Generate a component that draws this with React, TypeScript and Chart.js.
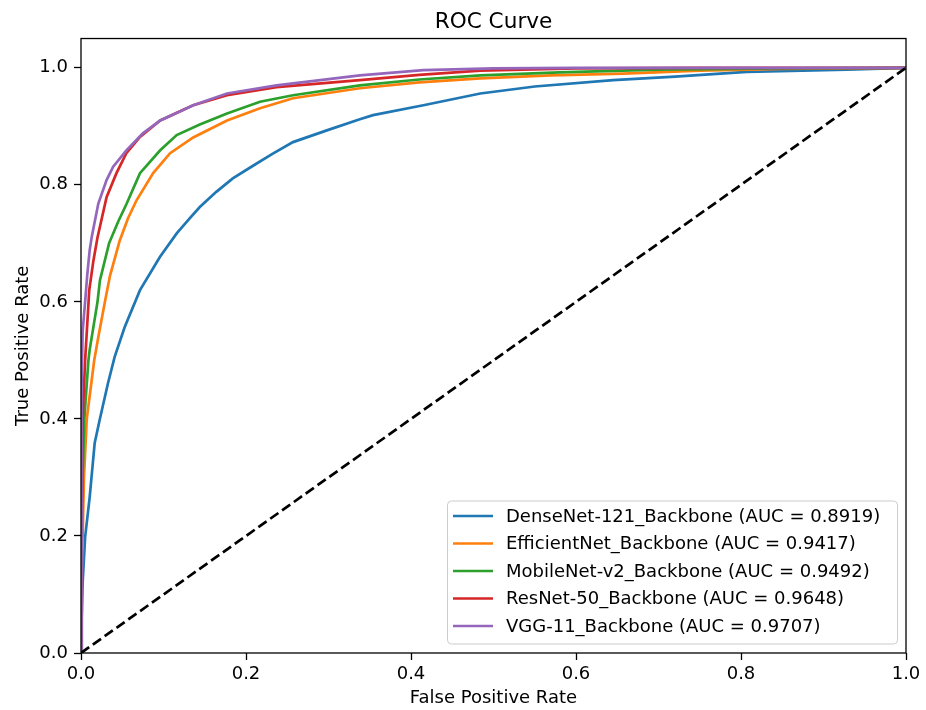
import React, { useEffect, useRef } from "react";
import { Chart, registerables } from "chart.js";

Chart.register(...registerables);

const seriesLabels = [
  "DenseNet-121_Backbone (AUC = 0.8919)",
  "EfficientNet_Backbone (AUC = 0.9417)",
  "MobileNet-v2_Backbone (AUC = 0.9492)",
  "ResNet-50_Backbone (AUC = 0.9648)",
  "VGG-11_Backbone (AUC = 0.9707)",
];
const seriesColors = ["#1f77b4", "#ff7f0e", "#2ca02c", "#d62728", "#9467bd"];

const denseFpr = [0, 0.001, 0.002, 0.005, 0.0105, 0.0166, 0.0226, 0.0327, 0.0408, 0.053, 0.0715, 0.0958, 0.116, 0.132, 0.144, 0.164, 0.184, 0.209, 0.232, 0.257, 0.298, 0.338, 0.354, 0.415, 0.484, 0.55, 0.645, 0.72, 0.807, 0.928, 1.0];
const denseTpr = [0, 0.06, 0.12, 0.198, 0.266, 0.359, 0.398, 0.461, 0.506, 0.557, 0.62, 0.677, 0.717, 0.743, 0.762, 0.788, 0.811, 0.833, 0.853, 0.873, 0.893, 0.912, 0.919, 0.936, 0.956, 0.968, 0.979, 0.985, 0.993, 0.997, 1.0];

const effFpr = [0, 0.0005, 0.002, 0.0036, 0.007, 0.0125, 0.016, 0.021, 0.029, 0.0352, 0.047, 0.057, 0.0675, 0.0875, 0.108, 0.136, 0.177, 0.217, 0.257, 0.338, 0.41, 0.484, 0.57, 0.657, 0.75, 0.85, 1.0];
const effTpr = [0, 0.12, 0.2, 0.3, 0.4, 0.461, 0.5, 0.54, 0.6, 0.645, 0.705, 0.743, 0.774, 0.82, 0.854, 0.881, 0.91, 0.931, 0.948, 0.965, 0.975, 0.982, 0.987, 0.99, 0.995, 0.998, 1.0];

const mobFpr = [0, 0.0005, 0.002, 0.004, 0.009, 0.0105, 0.02, 0.023, 0.034, 0.045, 0.0554, 0.0715, 0.096, 0.116, 0.144, 0.177, 0.217, 0.257, 0.338, 0.41, 0.484, 0.58, 0.7, 0.85, 1.0];
const mobTpr = [0, 0.15, 0.3, 0.4, 0.5, 0.518, 0.6, 0.637, 0.7, 0.737, 0.768, 0.82, 0.859, 0.885, 0.903, 0.922, 0.942, 0.953, 0.97, 0.98, 0.987, 0.992, 0.997, 0.999, 1.0];

const resFpr = [0, 0.0005, 0.002, 0.005, 0.01, 0.015, 0.02, 0.031, 0.043, 0.055, 0.0715, 0.096, 0.136, 0.177, 0.237, 0.338, 0.41, 0.484, 0.6, 0.75, 1.0];
const resTpr = [0, 0.2, 0.4, 0.5, 0.62, 0.67, 0.71, 0.779, 0.82, 0.854, 0.882, 0.91, 0.936, 0.953, 0.967, 0.979, 0.988, 0.995, 0.999, 1.0, 1.0];

const vggFpr = [0, 0.0003, 0.001, 0.002, 0.005, 0.0075, 0.0105, 0.013, 0.021, 0.031, 0.039, 0.055, 0.075, 0.096, 0.136, 0.177, 0.237, 0.338, 0.415, 0.5, 0.6, 1.0];
const vggTpr = [0, 0.25, 0.45, 0.55, 0.6, 0.645, 0.688, 0.711, 0.768, 0.808, 0.831, 0.859, 0.888, 0.91, 0.936, 0.956, 0.97, 0.987, 0.996, 0.999, 1.0, 1.0];

const chanceFpr = [0, 1];
const chanceTpr = [0, 1];

const xTickValues = [0, 0.2, 0.4, 0.6, 0.8, 1.0];
const yTickValues = [0, 0.2, 0.4, 0.6, 0.8, 1.0];

const seriesFpr = [denseFpr, effFpr, mobFpr, resFpr, vggFpr];
const seriesTpr = [denseTpr, effTpr, mobTpr, resTpr, vggTpr];

const FONT = "'DejaVu Sans', sans-serif";

const toPoints = (xs: number[], ys: number[]) => xs.map((x, i) => ({ x, y: ys[i] }));

const framePlugin = {
  id: "frameAndLegend",
  afterDatasetsDraw(chart: any) {
    const { ctx, chartArea } = chart;
    const { left, right, top, bottom } = chartArea;
    ctx.save();
    // legend
    const boxW = 450;
    const boxH = 143;
    const bx = right - 9 - boxW;
    const by = bottom - 9.5 - boxH;
    ctx.beginPath();
    if ((ctx as any).roundRect) {
      (ctx as any).roundRect(bx + 0.5, by + 0.5, boxW, boxH, 4);
    } else {
      ctx.rect(bx + 0.5, by + 0.5, boxW, boxH);
    }
    ctx.fillStyle = "rgba(255,255,255,0.8)";
    ctx.fill();
    ctx.strokeStyle = "#cccccc";
    ctx.lineWidth = 1;
    ctx.stroke();
    ctx.font = `18px ${FONT}`;
    ctx.textBaseline = "middle";
    ctx.textAlign = "left";
    const items = chart.data.datasets.filter((d: any) => d.inLegend);
    items.forEach((d: any, i: number) => {
      const y = by + 15.5 + i * 27.5;
      ctx.beginPath();
      ctx.strokeStyle = d.borderColor;
      ctx.lineWidth = 2.7;
      ctx.moveTo(bx + 6, y);
      ctx.lineTo(bx + 46, y);
      ctx.stroke();
      ctx.fillStyle = "#000";
      ctx.fillText(d.label, bx + 59, y + 1);
    });
    // frame
    ctx.strokeStyle = "#000";
    ctx.lineWidth = 1.3;
    ctx.strokeRect(left, top, right - left, bottom - top);
    ctx.restore();
  },
};

export default function App() {
  const canvasRef = useRef<HTMLCanvasElement | null>(null);

  useEffect(() => {
    document.body.style.margin = "0";
    const canvas = canvasRef.current;
    if (!canvas) return;

    const curveSets = seriesLabels.map((label, i) => ({
      label,
      inLegend: true,
      data: toPoints(seriesFpr[i], seriesTpr[i]),
      borderColor: seriesColors[i],
      backgroundColor: seriesColors[i],
      borderWidth: 2.7,
      pointRadius: 0,
      pointHoverRadius: 0,
      tension: 0,
      fill: false,
      order: 6 - i,
    }));

    const chart = new Chart(canvas, {
      type: "line",
      data: {
        datasets: [
          ...curveSets,
          {
            label: "chance",
            inLegend: false,
            data: toPoints(chanceFpr, chanceTpr),
            borderColor: "#000000",
            backgroundColor: "#000000",
            borderWidth: 2.7,
            borderDash: [10, 4.5],
            pointRadius: 0,
            pointHoverRadius: 0,
            tension: 0,
            fill: false,
            order: 0,
          } as any,
        ],
      },
      plugins: [framePlugin],
      options: {
        animation: false,
        responsive: false,
        maintainAspectRatio: false,
        devicePixelRatio: 1,
        layout: { padding: { left: 0, right: 20, top: 0, bottom: 0 } },
        events: [],
        plugins: {
          legend: { display: false },
          tooltip: { enabled: false },
          title: {
            display: true,
            fullSize: false,
            text: "ROC Curve",
            color: "#000",
            font: { size: 21.6, family: FONT, weight: "normal" as any },
            padding: { top: 9, bottom: 3.6 },
          },
        },
        scales: {
          x: {
            type: "linear",
            min: 0,
            max: 1,
            afterBuildTicks: (scale: any) => {
              scale.ticks = xTickValues.map((v) => ({ value: v }));
            },
            afterFit: (scale: any) => {
              scale.height = 57;
            },
            ticks: {
              color: "#000",
              font: { size: 18, family: FONT },
              padding: 4,
              maxRotation: 0,
              callback: (v: any) => Number(v).toFixed(1),
            },
            grid: {
              display: true,
              drawOnChartArea: false,
              drawTicks: true,
              tickLength: 7,
              tickWidth: 1.3,
              tickColor: "#000",
            },
            border: { display: false },
            title: {
              display: true,
              text: "False Positive Rate",
              color: "#000",
              font: { size: 18, family: FONT },
              padding: { top: 0, bottom: 1 },
            },
          },
          y: {
            type: "linear",
            min: 0,
            max: 1.05,
            afterBuildTicks: (scale: any) => {
              scale.ticks = yTickValues.map((v) => ({ value: v }));
            },
            afterFit: (scale: any) => {
              scale.width = 81;
            },
            ticks: {
              color: "#000",
              font: { size: 18, family: FONT },
              padding: 6,
              callback: (v: any) => Number(v).toFixed(1),
            },
            grid: {
              display: true,
              drawOnChartArea: false,
              drawTicks: true,
              tickLength: 7,
              tickWidth: 1.3,
              tickColor: "#000",
            },
            border: { display: false },
            title: {
              display: true,
              text: "True Positive Rate",
              color: "#000",
              font: { size: 18, family: FONT },
              padding: { top: 12.4, bottom: 0 },
            },
          },
        },
      } as any,
    });

    return () => {
      chart.destroy();
    };
  }, []);

  return (
    <div style={{ position: "absolute", left: 0, top: 0, width: 926, height: 710, background: "#fff" }}>
      <canvas ref={canvasRef} width={926} height={710} style={{ width: 926, height: 710, display: "block" }} />
    </div>
  );
}
